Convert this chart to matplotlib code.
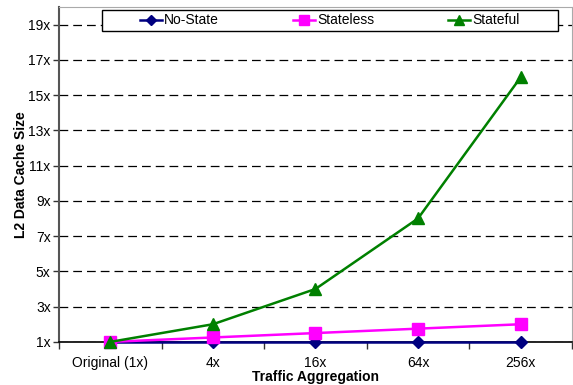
import matplotlib
matplotlib.use("Agg")
import matplotlib.pyplot as plt
from matplotlib.patches import Rectangle
from matplotlib.lines import Line2D

plt.rcParams['font.family'] = ['Liberation Sans', 'DejaVu Sans']

categories = ["Original (1x)", "4x", "16x", "64x", "256x"]
no_state = [1, 1, 1, 1, 1]
stateless = [1, 1.25, 1.5, 1.75, 2]
stateful = [1, 2, 4, 8, 16]
y_ticks = [1, 3, 5, 7, 9, 11, 13, 15, 17, 19]

series = [
    ("No-State", no_state, "#000080", "D", 6.5),
    ("Stateless", stateless, "#FF00FF", "s", 8.5),
    ("Stateful", stateful, "#008000", "^", 9),
]

fig = plt.figure(figsize=(5.73, 3.85), dpi=100)
ax = fig.add_axes([0.103, 0.112, 0.895, 0.870])

x = list(range(len(categories)))
handles = []
for name, vals, color, marker, ms in series:
    ax.plot(x, vals, color=color, lw=1.8, marker=marker, markersize=ms,
            zorder=4, clip_on=False)
    handles.append(Line2D([0], [0], color=color, lw=1.8, marker=marker,
                          markersize=ms - 1.5))

ax.set_xlim(-0.5, 4.5)
ax.set_ylim(1, 20)
ax.set_yticks(y_ticks)
ax.set_yticklabels([f"{t}x" for t in y_ticks], fontsize=10)
ax.set_xticks(x)
ax.set_xticklabels(categories, fontsize=10)
ax.tick_params(axis="x", length=0, pad=10)
ax.set_xticks([i + 0.5 for i in range(-1, len(categories))], minor=True)
ax.tick_params(axis="x", which="minor", length=5, width=1, color="#333333",
               direction="out")
ax.tick_params(axis="y", length=4, width=1, color="#333333", pad=2)

ax.grid(axis="y", color="black", linestyle=(0, (7, 4)), lw=0.9)
ax.set_axisbelow(True)

ax.spines["left"].set_color("#555555")
ax.spines["left"].set_linewidth(1.5)
ax.spines["bottom"].set_color("black")
ax.spines["bottom"].set_linewidth(1.2)
ax.spines["top"].set_color("#aaaaaa")
ax.spines["right"].set_color("#aaaaaa")

ax.set_ylabel("L2 Data Cache Size", fontsize=10, fontweight="bold", labelpad=0)
ax.set_xlabel("Traffic Aggregation", fontsize=10, fontweight="bold", labelpad=0)

# legend box
ax.add_patch(Rectangle((0.0838, 0.928), 0.889, 0.063, transform=ax.transAxes,
                       facecolor="white", edgecolor="black", lw=1.0,
                       zorder=5, clip_on=False))
leg = ax.legend(handles, [s[0] for s in series], ncol=3, loc="center left",
                bbox_to_anchor=(0.158, 0.9597), fontsize=10, frameon=False,
                handlelength=1.6, handletextpad=0.15, columnspacing=5.3,
                borderpad=0, borderaxespad=0)
leg.set_zorder(6)

fig.savefig("out.png", dpi=100)
